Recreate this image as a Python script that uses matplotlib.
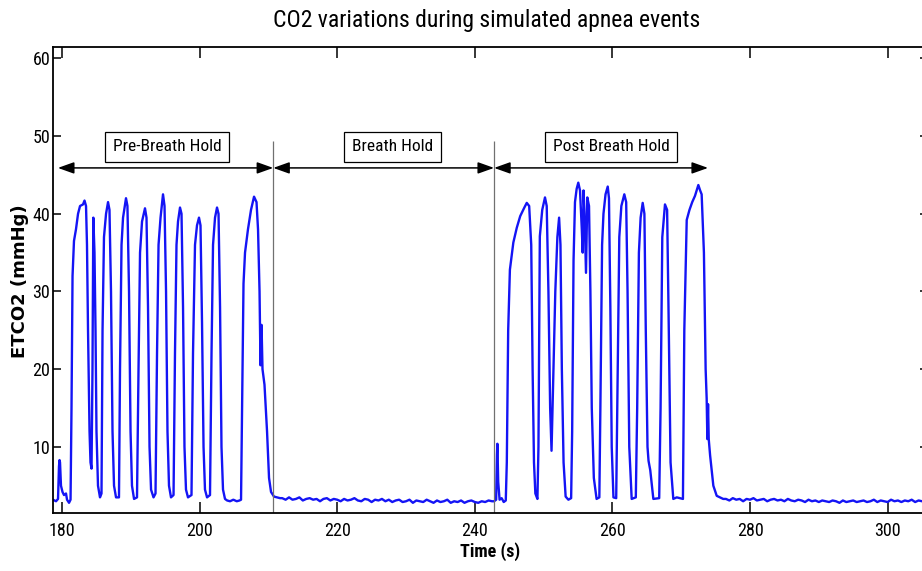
import matplotlib
matplotlib.use("Agg")
import matplotlib.pyplot as plt
import numpy as np

# ETCO2 trace, split by phase (time in s, value in mmHg)
pre_t = [178.69, 179.13, 179.42, 179.56, 179.64, 179.71, 179.85, 180.07, 180.29, 180.58,
         180.73, 181.02, 181.24, 181.38, 181.53, 181.74, 182.03, 182.33, 182.62, 183.05,
         183.27, 183.49, 183.63, 183.78, 184.0, 184.14, 184.29, 184.43, 184.55, 184.72,
         184.87, 185.01, 185.23, 185.52, 185.74, 185.89, 186.1, 186.4, 186.69, 186.9,
         187.12, 187.34, 187.56, 187.85, 188.28, 188.43, 188.65, 188.87, 189.3, 189.51,
         189.74, 189.96, 190.17, 190.47, 190.9, 191.12, 191.34, 191.63, 192.06, 192.28,
         192.5, 192.72, 192.94, 193.3, 193.59, 193.81, 194.03, 194.32, 194.68, 194.9,
         195.12, 195.33, 195.55, 195.84, 196.21, 196.42, 196.64, 196.86, 197.15, 197.37,
         197.59, 197.8, 198.02, 198.31, 198.82, 199.04, 199.33, 199.62, 199.91, 200.13,
         200.35, 200.57, 200.78, 201.08, 201.51, 201.73, 201.95, 202.24, 202.53, 202.75,
         202.97, 203.18, 203.4, 203.69, 204.0, 204.42, 204.9, 205.4, 205.8, 206.02,
         206.24, 206.38, 206.6, 207.03, 207.47, 207.91, 208.27, 208.49, 208.71, 208.85,
         209.0, 209.14, 209.43, 209.8, 210.09, 210.38, 210.81, 211.69]
pre_v = [3.2, 3.0, 3.3, 7.5, 8.3, 8.0, 5.0, 4.2, 3.8, 4.0,
         3.2, 2.8, 3.2, 15, 32, 36.5, 38, 40, 41, 41.2,
         41.7, 41, 36, 25, 12, 8, 7.2, 20, 39.5, 35,
         25, 12, 5, 3.5, 4, 25, 37, 40, 41.5, 40.5,
         30, 12, 5, 3.5, 3.5, 20, 36, 39.5, 42, 41,
         30, 12, 5, 3.3, 3.5, 20, 35, 39, 40.7, 39.5,
         28, 10, 4.5, 3.5, 4, 22, 36, 39.5, 42.5, 41,
         30, 12, 5, 3.5, 3.8, 22, 36, 39, 40.8, 40,
         28, 10, 4.5, 3.5, 3.8, 22, 36, 38.5, 39.5, 38.5,
         26, 10, 4.5, 3.5, 3.8, 22, 36, 39.5, 40.8, 40,
         28, 10, 4.5, 3.3, 3.1, 3.0, 3.2, 3.0, 3.1, 3.2,
         20, 31, 35, 38, 40.5, 42.2, 41.5, 38, 30, 20.5,
         25.7, 20, 18, 12, 6, 4.2, 3.6, 3.4]

hold_t = [212.0, 212.5, 213.0, 213.5, 214.0, 214.5, 215.0, 215.5, 216.0, 216.5,
          217.0, 217.5, 218.0, 218.5, 219.0, 219.5, 220.0, 220.5, 221.0, 221.5,
          222.0, 222.5, 223.0, 223.5, 224.0, 224.5, 225.0, 225.5, 226.0, 226.5,
          227.0, 227.5, 228.0, 228.5, 229.0, 229.5, 230.0, 230.5, 231.0, 231.5,
          232.0, 232.5, 233.0, 233.5, 234.0, 234.5, 235.0, 235.5, 236.0, 236.5,
          237.0, 237.5, 238.0, 238.5, 239.0, 239.5, 240.0, 240.5, 241.0, 241.5,
          242.0, 242.5]
hold_v = [3.4, 3.2, 3.5, 3.2, 3.3, 3.5, 3.1, 3.3, 3.4, 3.2,
          3.3, 3.0, 3.3, 3.4, 3.1, 3.3, 3.2, 3.0, 3.3, 3.1,
          3.2, 3.4, 3.1, 3.0, 3.3, 3.2, 2.9, 3.2, 3.1, 3.3,
          3.0, 3.2, 2.9, 3.1, 3.2, 2.9, 3.0, 3.2, 2.8, 3.1,
          3.0, 2.9, 3.2, 3.0, 2.8, 3.1, 2.9, 3.0, 3.2, 2.8,
          3.0, 2.9, 3.1, 2.8, 3.0, 3.1, 2.9, 2.8, 3.0, 2.9,
          3.1, 3.0]

post_t = [242.8, 243.1, 243.22, 243.28, 243.4, 243.6, 243.9, 244.2, 244.5, 244.65,
          244.85, 245.1, 245.6, 246.1, 246.6, 247.2, 247.55, 247.9, 248.2, 248.4,
          248.6, 248.8, 249.1, 249.25, 249.45, 249.8, 250.2, 250.45, 250.7, 250.95,
          251.15, 251.3, 251.5, 251.7, 252.0, 252.25, 252.45, 252.65, 252.9, 253.2,
          253.6, 254.0, 254.15, 254.35, 254.56, 254.8, 255.04, 255.29, 255.55, 255.68,
          255.8, 255.95, 256.16, 256.35, 256.6, 256.8, 257.0, 257.3, 257.7, 258.1,
          258.25, 258.5, 258.7, 259.0, 259.32, 259.5, 259.7, 259.9, 260.15, 260.55,
          260.7, 261.0, 261.3, 261.73, 262.0, 262.2, 262.45, 262.8, 263.4, 263.6,
          263.85, 264.1, 264.4, 264.65, 264.85, 265.1, 265.25, 265.5, 265.75, 265.95,
          266.8, 267.0, 267.25, 267.64, 267.95, 268.15, 268.45, 268.85, 269.35, 270.25,
          270.45, 270.8, 271.2, 271.6, 272.0, 272.49, 272.75, 272.97, 273.3, 273.55,
          273.7, 273.8, 273.9, 274.0, 274.2, 274.67, 275.16, 276.1]
post_v = [3.0, 3.2, 9.0, 10.4, 5.5, 3.2, 3.4, 2.9, 3.1, 8,
          25, 32.8, 36.3, 38.2, 39.7, 40.8, 41.4, 41.0, 36, 20,
          8, 4.0, 3.3, 10, 37.1, 40.5, 42.1, 41, 30, 15,
          9.5, 15, 22, 30, 37, 39.5, 36, 20, 8, 3.6,
          3.2, 3.4, 12, 34, 41.5, 43.2, 44.0, 43, 38, 35,
          43, 40, 32.4, 42.1, 41, 30, 15, 6, 3.3, 3.5,
          15, 36, 40, 42.5, 43.5, 42, 28, 10, 3.5, 3.4,
          15, 37, 41, 42.5, 41.5, 30, 10, 3.3, 3.5, 15,
          35, 39.5, 41.4, 40, 25, 10, 8.2, 7.0, 5, 3.3,
          3.4, 15, 37, 41.2, 40.5, 28, 8, 3.3, 3.5, 3.3,
          25, 39.2, 40.5, 41.5, 42.3, 43.7, 43, 42.5, 35, 20,
          16.2, 11.0, 15.5, 11, 8.9, 5.0, 3.7, 3.3]

tail_t = [276.5, 277.0, 277.5, 278.0, 278.5, 279.0, 279.5, 280.0, 280.5, 281.0,
          281.5, 282.0, 282.5, 283.0, 283.5, 284.0, 284.5, 285.0, 285.5, 286.0,
          286.5, 287.0, 287.5, 288.0, 288.5, 289.0, 289.5, 290.0, 290.5, 291.0,
          291.5, 292.0, 292.5, 293.0, 293.5, 294.0, 294.5, 295.0, 295.5, 296.0,
          296.5, 297.0, 297.5, 298.0, 298.5, 299.0, 299.5, 300.0, 300.5, 301.0,
          301.5, 302.0, 302.5, 303.0, 303.5, 304.0, 304.5, 305.0, 305.5, 306.0]
tail_v = [3.3, 3.1, 3.4, 3.2, 3.3, 3.0, 3.3, 3.2, 3.4, 3.1,
          3.2, 3.3, 3.0, 3.2, 3.3, 3.1, 3.2, 3.0, 3.3, 3.1,
          3.0, 3.2, 3.1, 2.9, 3.2, 3.0, 3.1, 2.9, 3.1, 3.0,
          2.9, 3.1, 3.0, 2.8, 3.1, 2.9, 3.0, 3.1, 2.9, 3.0,
          3.1, 2.9, 3.0, 3.2, 2.9, 3.1, 3.0, 2.9, 3.2, 3.0,
          3.1, 2.9, 3.1, 3.0, 3.2, 2.9, 3.1, 3.0, 3.2, 3.0]

# phase boundaries and labels
phase_edges = [179.4, 210.7, 242.8, 273.9]
phase_names = ["Pre-Breath Hold", "Breath Hold", "Post Breath Hold"]
label_x = [195.3, 228.0, 259.8]

t = np.concatenate([pre_t, hold_t, post_t, tail_t])
v = np.concatenate([pre_v, hold_v, post_v, tail_v])

# condensed face if one is around, else plain Arial-metric
narrow = ["Liberation Sans Narrow", "Roboto Condensed", "DejaVu Sans Condensed",
          "Liberation Sans"]

fig = plt.figure(figsize=(9.22, 5.71), dpi=100)
# axes runs a bit past the right edge, like the cropped original
ax = fig.add_axes([53/922, 1-513.3/571, (928-53)/922, (513.3-46.7)/571])

ax.plot(t, v, color="#1414f5", lw=1.7)

ax.set_xlim(178.69, 305.87)
ax.set_ylim(1.45, 61.5)
ax.set_xticks([180, 200, 220, 240, 260, 280, 300])
ax.set_yticks([10, 20, 30, 40, 50, 60])
ax.tick_params(axis="x", direction="in", top=True, length=8, width=1.1, pad=6)
ax.tick_params(axis="y", direction="in", right=True, length=6, width=1.1, pad=2)
for lab in ax.get_xticklabels() + ax.get_yticklabels():
    lab.set_family(narrow)
    lab.set_fontsize(13)
for s in ax.spines.values():
    s.set_linewidth(1.3)

# phase separators
ax.vlines(phase_edges[1:3], 1.45, 49.3, color="#707070", lw=0.9)

# arrows and boxed labels
for i in range(3):
    ax.annotate("", xy=(phase_edges[i+1], 45.9), xytext=(phase_edges[i], 45.9),
                arrowprops=dict(arrowstyle="<|-|>,head_length=0.7,head_width=0.25",
                                color="black", lw=1.1, shrinkA=0, shrinkB=0,
                                mutation_scale=14))
    ax.text(label_x[i], 48.6, phase_names[i], ha="center", va="center",
            family=narrow, fontsize=12.5,
            bbox=dict(boxstyle="square,pad=0.45", fc="white", ec="black", lw=0.9))

fig.text(487/922, 1-20/571, "CO2 variations during simulated apnea events",
         ha="center", va="center", fontsize=17, family=narrow)
fig.text(490/922, 1-552/571, "Time (s)", ha="center", va="center",
         fontsize=13, fontweight="bold", family=narrow)
fig.text(20/922, 1-281.5/571, "ETCO2 (mmHg)", ha="center", va="center",
         rotation=90, fontsize=13, fontweight="bold", family="DejaVu Sans")

fig.savefig("out.png", dpi=100)
